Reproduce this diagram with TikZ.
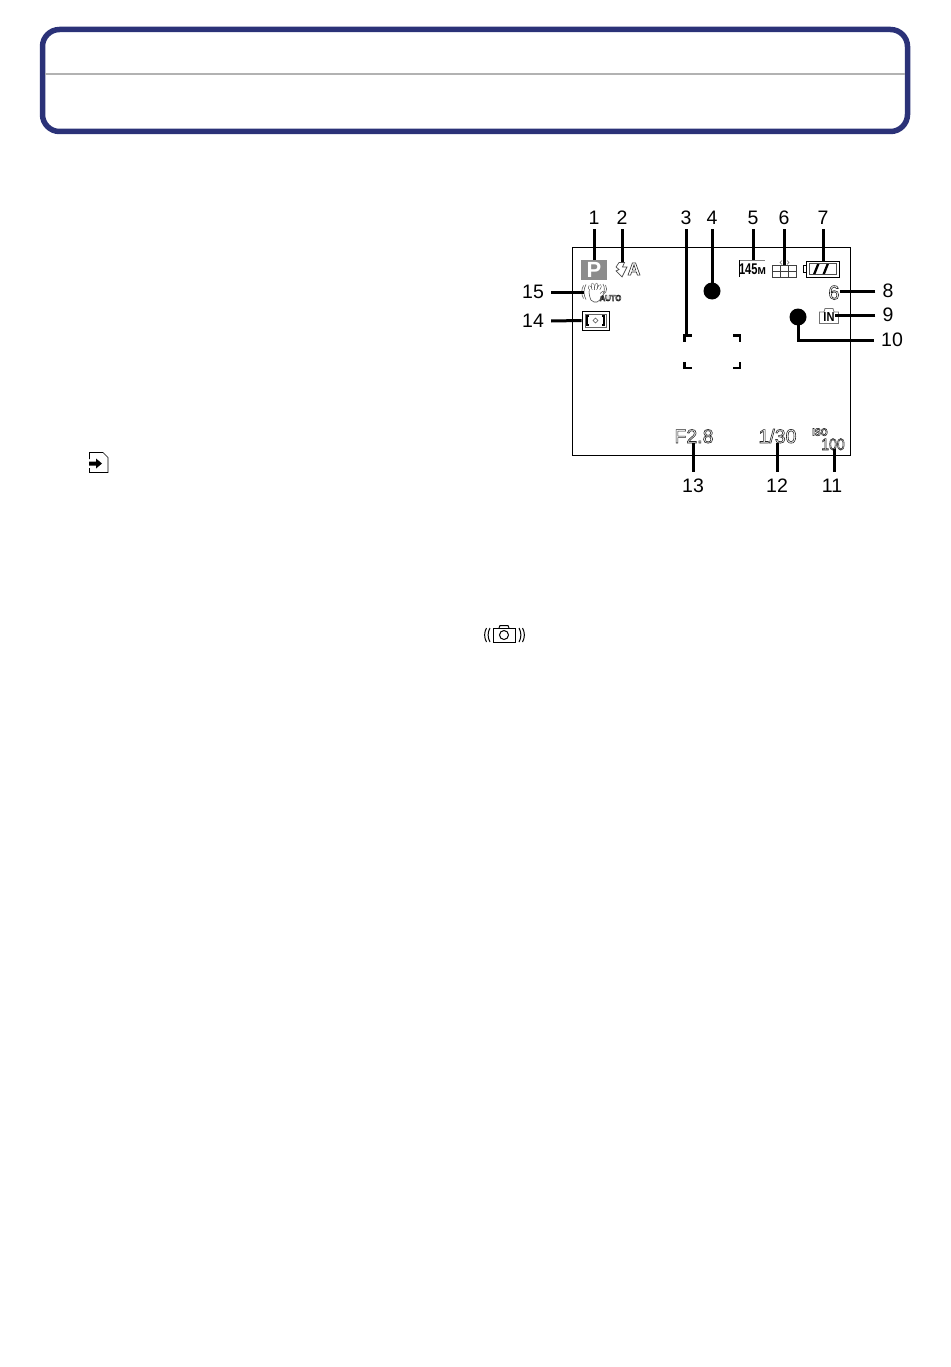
\documentclass[tikz,border=0pt]{standalone}
\usepackage{fontspec}
\setmainfont{Liberation Sans}
\newcommand{\outl}[1]{\special{pdf:code q 1 Tr 0.6 w 0.15 G}#1\special{pdf:code Q}}
\newcommand{\numfont}{\fontsize{19.5}{20}\selectfont}
\definecolor{titlenavy}{HTML}{2B3278}
\tikzset{
  numbase/.style={inner sep=0pt, font=\numfont, text height=13.5pt, text depth=0pt},
  numtop/.style={numbase, inner ysep=5pt},
  numbot/.style={numbase, inner ysep=7.5pt},
  numside/.style={numbase, inner xsep=7pt},
  leader/.style={draw=black, line width=3pt},
  outtext/.style={inner sep=0pt, text depth=0pt},
  focus/.style={draw=black, line width=2.8pt},
  dot/.style={circle, fill=black, inner sep=0pt, minimum size=17pt},
  fingerline/.style={draw=black!75, line width=0.55pt, double=white, double distance=2.2pt, line cap=round},
  waveline/.style={draw=black!65, line width=0.6pt}
}
\begin{document}
\begin{tikzpicture}[x=1pt,y=-1pt]
\useasboundingbox (0,0) rectangle (950,1367);
% title box
\draw [titlenavy, line width=5.5pt, rounded corners=17pt] (42.5,29.5) rectangle (907.5,131.5);
\draw [black!30, line width=1.4pt] (45,74) -- (905,74);
% screen
\draw [black, line width=0.9pt] (572.5,247.5) rectangle (850.5,455.5);
% numbers
\node [numtop] (n1) at (594,217.5) {1};
\node [numtop] (n2) at (622,217.5) {2};
\node [numtop] (n3) at (686,217.5) {3};
\node [numtop] (n4) at (712,217.5) {4};
\node [numtop] (n5) at (753,217.5) {5};
\node [numtop] (n6) at (784,217.5) {6};
\node [numtop] (n7) at (823,217.5) {7};
\node [numside] (n8) at (888,291) {8};
\node [numside] (n9) at (888,315) {9};
\node [numside] (n10) at (892,340) {10};
\node [numbot] (n11) at (832,486) {11};
\node [numbot] (n12) at (777,486) {12};
\node [numbot] (n13) at (693,486) {13};
\node [numside] (n14) at (533,321) {14};
\node [numside] (n15) at (533,292) {15};
% icons and screen values
\node [dot] (dotfour) at (712,291) {};
\node [dot] (dotten) at (798,317) {};
\node [outtext, font=\fontsize{19.5}{20}\selectfont, text height=14pt] (fnum) at (694,436) {\outl{F2.8}};
\node [outtext, font=\fontsize{19.5}{20}\selectfont, text height=14pt] (speed) at (777.5,436) {\outl{1/30}};
\node [outtext, font=\bfseries\fontsize{10.5}{10}\selectfont] (isotxt) at (820,432) {\outl{\scalebox{.85}[1]{ISO}}};
\node [outtext, font=\fontsize{16.5}{16}\selectfont, text height=12pt] (isoval) at (833,444) {\outl{\scalebox{.85}[1]{100}}};
\node [outtext, font=\fontsize{20}{20}\selectfont, text height=14pt] (shots) at (834,292.5) {\outl{6}};
\node [outtext, font=\bfseries\fontsize{18}{18}\selectfont] (autoa) at (634,269) {\outl{A}};
\node [outtext, font=\bfseries\fontsize{8.5}{9}\selectfont] (handauto) at (610.5,298) {\outl{\scalebox{.9}[1]{AUTO}}};
\node [outtext, font=\bfseries\fontsize{15.5}{14}\selectfont] (sizetxt) at (752.5,269) {\scalebox{.72}[1]{145}\fontsize{10}{9}\selectfont M};
% P box
\node [rectangle, fill=black!45, minimum width=26pt, minimum height=20pt, inner sep=0pt, text=white, font=\bfseries\fontsize{22}{20}\selectfont] (pbox) at (594,270) {P};
% flash
\coordinate (flash) at (622,262);
\draw [black!70, line width=0.7pt] (619,262.5) -- (624.5,262.5) -- (622.5,267) -- (627,267) -- (622,277) -- (616,271) -- (619,269.5) -- (616,267) -- cycle;
% card size
\coordinate (cardtop) at (753,260);
\draw [black, line width=0.8pt] (739.5,277) -- (739.5,260);
\draw [black!50, line width=0.5pt] (739.5,260) -- (765,260);
% quality grid
\node [rectangle, draw=black!75, line width=0.7pt, minimum width=24pt, minimum height=12pt, inner sep=0pt] (grid) at (784.5,271) {};
\draw [black!75, line width=0.7pt] (772.5,271) -- (796.5,271);
\draw [black!75, line width=0.7pt] (780.5,265) -- (780.5,277);
\draw [black!75, line width=0.7pt] (788.5,265) -- (788.5,277);
\draw [black!60, line width=0.5pt] (782,260.5) -- (780,262.5) -- (782,264.5);
\draw [black!60, line width=0.5pt] (787,260.5) -- (789,262.5) -- (787,264.5);
% battery
\node [rectangle, draw=black, line width=1pt, minimum width=33pt, minimum height=16pt, inner sep=0pt] (batt) at (822.5,269) {};
\draw [black!70, line width=0.5pt] (809,263.5) rectangle (836.5,274.5);
\draw [black, line width=0.8pt] (806,265.5) -- (803,265.5) -- (803,272.5) -- (806,272.5);
\fill [black] (817,264) -- (819.5,264) -- (815.5,274) -- (813,274) -- cycle;
\fill [black] (826.5,264) -- (829,264) -- (825,274) -- (822.5,274) -- cycle;
% built-in memory
\coordinate (inmem) at (835,315);
\draw [black!55, line width=0.8pt] (819.5,312) -- (824,312) -- (825,308.5) -- (833,308.5) -- (834,312) -- (838.5,312) -- (838.5,323.5) -- (819.5,323.5) -- cycle;
\node [outtext, font=\bfseries\fontsize{13}{11}\selectfont] (intxt) at (829,317.5) {\scalebox{.85}[1]{IN}};
% stabilizer hand
\coordinate (hand) at (584,292);
\draw [fingerline] (595,297) -- (589.5,287);
\draw [fingerline] (595,297) -- (592.5,284.5);
\draw [fingerline] (595,297) -- (596.5,284.5);
\draw [fingerline] (595,297) -- (600,286);
\draw [fingerline] (597,298) -- (603.5,292.5);
\fill [white] (590,290) rectangle (600,300);
\draw [black!75, line width=0.55pt, rounded corners=2pt] (589,291) -- (589.5,297) -- (592,302) -- (599,302) -- (601,297);
\draw [waveline] (586,284.5) arc (210:150:15);
\draw [waveline] (583.5,285.5) arc (210:150:13);
\draw [waveline] (603,284) arc (-30:30:10);
\draw [waveline] (605.5,285) arc (-30:30:8);
% metering
\node [rectangle, draw=black, line width=0.9pt, minimum width=27pt, minimum height=19pt, inner sep=0pt] (meter) at (595.5,320.5) {};
\draw [black!60, line width=0.5pt] (585,314) rectangle (606,327);
\draw [black, line width=1.2pt] (589,316) -- (587,316) -- (587,325) -- (589,325);
\draw [black, line width=1.2pt] (602,316) -- (604,316) -- (604,325) -- (602,325);
\draw [black!70, line width=0.5pt] (595.5,318) -- (598,320.5) -- (595.5,323) -- (593,320.5) -- cycle;
% focus area
\coordinate (afa) at (686,335);
\draw [focus] (691.5,335.5) -- (684.5,335.5) -- (684.5,342);
\draw [focus] (733,335.5) -- (740,335.5) -- (740,342);
\draw [focus] (691.5,368) -- (684.5,368) -- (684.5,361.5);
\draw [focus] (733,368) -- (740,368) -- (740,361.5);
% leaders
\coordinate (isoleg) at (834,449);
\draw [leader] (n1.south) -- (pbox.north);
\draw [leader] (n2.south) -- (flash);
\draw [leader] (n3.south) -- (afa);
\draw [leader] (n4.south) -- (dotfour.center);
\draw [leader] (n5.south) -- (cardtop);
\draw [leader] (n6.south) -- (n6.south |- grid.north);
\draw [leader] (n7.south) -- (n7.south |- batt.north);
\draw [leader] (n8.west) -- (n8.west -| shots.east);
\draw [leader] (n9.west) -- (inmem);
\draw [leader] (n10.west) -| (dotten.center);
\draw [leader] (isoleg |- n11.north) -- (isoleg);
\draw [leader] (n12.north) -- (n12.north |- speed.south);
\draw [leader] (n13.north) -- (n13.north |- fnum.south);
\draw [leader] (n14.east) -- (meter.west);
\draw [leader] (n15.east) -- (hand);
% note icon
\node [rectangle, inner sep=0pt, minimum width=19pt, minimum height=21pt] (noteicon) at (98.5,462.5) {};
\draw [black, line width=0.7pt] (89.5,459) -- (89.5,452.5) -- (103,452.5) -- (108,457.5) -- (108,472.5) -- (89.5,472.5) -- (89.5,468);
\fill [black] (89,461.5) -- (96,461.5) -- (96,458.5) -- (102,463.5) -- (96,468.5) -- (96,465.5) -- (89,465.5) -- cycle;
% shake icon
\node [rectangle, draw=black, line width=1pt, minimum width=22pt, minimum height=14pt, inner sep=0pt] (shakecam) at (504.5,635) {};
\draw [black, line width=1pt] (499,628) -- (500,625.5) -- (508,625.5) -- (509,628);
\draw [black, line width=1pt] (504,635) circle (4.5);
\draw [black, line width=1pt] (486.5,628) arc (210:150:14);
\draw [black, line width=1pt] (490,628) arc (210:150:14);
\draw [black, line width=1pt] (519,628) arc (-30:30:14);
\draw [black, line width=1pt] (522.5,628) arc (-30:30:14);
\end{tikzpicture}
\end{document}
